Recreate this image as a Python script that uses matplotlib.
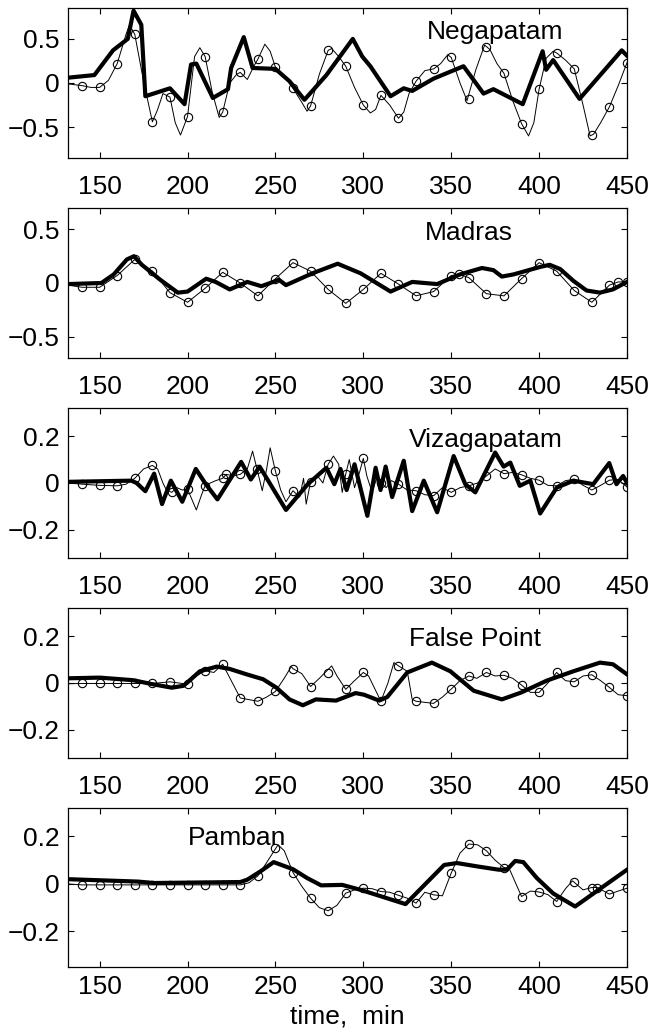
import matplotlib
matplotlib.use('Agg')
import matplotlib.pyplot as plt

plt.rcParams['font.family'] = ['Liberation Sans', 'DejaVu Sans']
plt.rcParams['font.size'] = 19

# ---------------- Negapatam ----------------
neg_obs_t = [140, 150, 160, 170, 180, 190, 200, 210, 220, 230, 240, 250, 260, 270, 280, 290,
             300, 310, 320, 330, 340, 350, 360, 370, 380, 390, 400, 410, 420, 430, 440, 450]
neg_obs_v = [-0.03, -0.05, 0.22, 0.55, -0.44, -0.16, -0.38, 0.30, -0.33, 0.12, 0.27, 0.18, -0.06, -0.26, 0.37, 0.19,
             -0.25, -0.14, -0.40, 0.02, 0.16, 0.29, -0.18, 0.41, 0.11, -0.46, -0.07, 0.34, 0.16, -0.59, -0.27, 0.23]
neg_thin_t = [132, 140, 145, 150, 155, 160, 165, 167, 170, 175, 180, 183, 186, 190, 193, 196, 200, 204, 207,
              210, 214, 218, 220, 224, 228, 230, 234, 238, 240, 244, 247, 250, 255, 260, 265, 268, 270, 275,
              280, 282, 286, 290, 295, 300, 304, 307, 310, 315, 320, 323, 326, 330, 335, 340, 344, 348, 350,
              355, 359, 364, 369, 372, 376, 380, 385, 390, 394, 397, 400, 404, 408, 410, 415, 420, 425, 429,
              431, 435, 440, 445, 450]
neg_thin_v = [-0.01, -0.03, -0.05, -0.05, 0.03, 0.22, 0.55, 0.66, 0.55, 0.02, -0.44, -0.30, -0.12, -0.16, -0.45,
              -0.59, -0.38, 0.30, 0.40, 0.30, -0.10, -0.39, -0.33, 0.00, 0.10, 0.12, 0.04, 0.20, 0.27, 0.44,
              0.36, 0.18, 0.08, -0.06, -0.22, -0.32, -0.26, 0.10, 0.37, 0.39, 0.30, 0.19, -0.05, -0.25, -0.34,
              -0.30, -0.14, -0.25, -0.40, -0.33, -0.12, 0.02, 0.14, 0.16, 0.22, 0.32, 0.29, 0.00, -0.20, 0.15,
              0.43, 0.38, 0.22, 0.11, -0.20, -0.46, -0.60, -0.45, -0.07, 0.28, 0.36, 0.34, 0.26, 0.16, -0.25,
              -0.60, -0.58, -0.45, -0.27, -0.03, 0.23]
neg_mod_t = [132, 147, 157.6, 166, 169.3, 173.7, 176, 190, 198.3, 202, 205, 214.4, 223, 224.8, 232, 237, 250,
             258, 266.5, 271, 279, 294, 299.4, 304, 315.5, 323, 327.8, 340, 357, 368.4, 374, 390.7, 402, 404,
             408, 423, 447, 450]
neg_mod_v = [0.06, 0.09, 0.37, 0.50, 0.82, 0.66, -0.15, -0.06, -0.24, 0.21, 0.22, -0.17, -0.07, 0.17, 0.52,
             0.17, 0.16, 0.02, -0.19, -0.09, 0.09, 0.50, 0.30, 0.19, -0.15, -0.06, -0.09, 0.05, 0.19, -0.12,
             -0.07, -0.24, 0.36, 0.15, 0.26, -0.18, 0.37, 0.31]

# ---------------- Madras ----------------
mad_obs_t = [140, 150, 160, 170, 180, 190, 200, 210, 220, 230, 240, 250, 260, 270, 280, 290, 300, 310,
             320, 330, 340, 350, 354.5, 360, 370, 380, 390, 400, 410, 420, 430, 440, 445, 450]
mad_obs_v = [-0.04, -0.04, 0.07, 0.22, 0.11, -0.09, -0.18, -0.05, 0.10, 0.00, -0.12, 0.04, 0.19, 0.11,
             -0.06, -0.19, -0.06, 0.09, -0.01, -0.12, -0.08, 0.07, 0.08, 0.05, -0.10, -0.12, 0.04, 0.19,
             0.11, -0.07, -0.18, -0.02, 0.01, 0.01]
mad_thin_t = [132] + mad_obs_t
mad_thin_v = [-0.02] + mad_obs_v
mad_mod_t = [132, 151, 158, 165.5, 169.5, 174, 184.5, 194.5, 200, 210.6, 216, 224, 234, 242, 252, 256, 271,
             285.4, 298.5, 315.5, 327.8, 342, 355, 367.5, 374, 378.8, 385.4, 400.6, 406, 412, 419.5, 427,
             434.6, 442, 450]
mad_mod_v = [-0.01, 0.00, 0.08, 0.22, 0.25, 0.17, 0.03, -0.09, -0.08, 0.04, 0.01, -0.06, 0.01, -0.03, 0.03,
             -0.02, 0.09, 0.18, 0.09, -0.08, 0.01, -0.01, 0.08, 0.14, 0.12, 0.06, 0.08, 0.15, 0.17, 0.13,
             0.02, -0.07, -0.09, -0.06, 0.01]

# ---------------- Vizagapatam ----------------
viz_obs_t = [140, 150, 160, 170, 180, 191, 200, 210, 220, 222, 230, 239.5, 250, 260, 270, 280, 290,
             300, 310, 320, 330, 340, 350, 360, 370, 380, 390, 400, 410, 420, 430, 440, 450]
viz_obs_v = [-0.005, -0.01, -0.012, 0.02, 0.075, -0.04, -0.026, -0.012, 0.02, 0.037, 0.037, 0.06, 0.05,
             -0.033, 0.006, 0.08, 0.038, 0.105, 0.002, -0.005, -0.033, -0.054, -0.04, -0.012, 0.03, 0.04,
             0.035, 0.012, -0.012, 0.016, -0.03, 0.012, -0.017]
viz_thin_t = [132, 140, 150, 160, 165, 170, 175, 180, 183, 186, 188, 191, 194, 197, 200, 205, 208, 210, 213,
              216, 220, 222, 226, 230, 234, 237, 239.5, 242.5, 245, 247, 250, 253, 256, 260, 263.8, 266,
              267.5, 270, 274, 277, 280, 283, 286, 288, 290, 292, 295, 298, 300, 302, 305, 308, 310, 313,
              316, 320, 325, 330, 335, 340, 345, 350, 355, 360, 365, 370, 375, 380, 385, 390, 395, 400,
              405, 410, 415, 420, 425, 430, 435, 440, 445, 450]
viz_thin_v = [0.0, -0.005, -0.01, -0.012, -0.005, 0.02, 0.06, 0.075, 0.06, 0.0, -0.03, -0.04, -0.02, -0.03,
              -0.026, -0.115, -0.05, -0.012, 0.0, 0.01, 0.02, 0.037, 0.03, 0.037, 0.06, 0.136, 0.06, -0.033,
              0.06, 0.15, 0.05, -0.03, -0.08, -0.033, -0.06, 0.02, -0.09, 0.006, 0.03, 0.0, 0.08, 0.115,
              0.08, -0.04, 0.038, 0.1, -0.02, 0.05, 0.105, 0.03, -0.04, 0.03, 0.002, -0.02, 0.01, -0.005,
              -0.03, -0.033, -0.05, -0.054, -0.02, -0.04, -0.02, -0.012, 0.0, 0.03, 0.06, 0.04, 0.045, 0.035,
              0.02, 0.012, -0.01, -0.012, 0.01, 0.016, -0.01, -0.03, -0.01, 0.012, 0.015, -0.017]
viz_mod_t = [132, 168, 171, 176, 181, 185.5, 190.5, 197, 204.7, 210.4, 217, 230.5, 236, 241, 256, 268.4, 279,
             283.5, 287, 290.5, 295, 302.3, 307, 309.8, 312.7, 316.4, 323, 327.8, 334.4, 342, 351.4, 358,
             363.7, 375, 379.8, 383.6, 389, 395, 400.6, 410, 419.5, 430.8, 439.9, 444, 447.8, 450]
viz_mod_v = [0.005, 0.01, 0.0, -0.035, 0.04, -0.09, 0.01, -0.08, 0.06, -0.005, -0.07, 0.09, 0.015, 0.07,
             -0.115, -0.005, 0.065, -0.005, 0.06, -0.03, 0.08, -0.14, 0.065, -0.03, 0.07, -0.06, 0.095,
             -0.12, 0.01, -0.125, 0.115, -0.005, -0.04, 0.13, 0.07, 0.087, -0.012, 0.01, -0.13, -0.02, 0.01,
             -0.005, 0.085, -0.005, 0.03, 0.0]

# ---------------- False Point ----------------
fp_obs_t = [140, 150, 160, 170, 180, 190, 200, 210, 220, 230, 240, 250, 260, 270, 280, 290,
            300, 310, 320, 330, 340, 350, 360, 370, 380, 390, 400, 410, 420, 430, 440, 450]
fp_obs_v = [-0.002, -0.002, -0.002, -0.002, -0.002, 0.005, -0.005, 0.052, 0.08, -0.064, -0.078, -0.036,
            0.061, -0.015, 0.042, -0.027, 0.045, -0.078, 0.073, -0.078, -0.087, -0.026, 0.03, 0.045, 0.033,
            -0.009, -0.04, 0.045, 0.005, 0.035, -0.019, -0.054]
fp_thin_t = [132, 140, 150, 160, 170, 180, 190, 200, 205, 210, 215, 220, 230, 240, 245, 250, 255, 259, 260,
             265, 270, 275, 282, 285, 290, 295, 300, 303, 310, 314, 317.4, 320, 325, 327.8, 330, 340, 345,
             350, 355, 360, 364.6, 370, 375, 380, 385, 390, 395, 400, 405, 410, 415, 420, 425, 430, 435,
             440, 445, 450]
fp_thin_v = [-0.003, -0.002, -0.002, -0.002, -0.002, -0.002, 0.005, -0.005, 0.03, 0.052, 0.045, 0.08,
             -0.064, -0.078, -0.06, -0.036, 0.02, 0.07, 0.061, 0.04, -0.015, 0.02, 0.073, 0.03, -0.027, 0.01,
             0.045, 0.03, -0.078, 0.0, 0.087, 0.073, 0.05, -0.07, -0.078, -0.087, -0.06, -0.026, 0.01, 0.03,
             0.02, 0.045, 0.03, 0.033, 0.02, -0.009, -0.04, -0.04, 0.0, 0.045, 0.01, 0.005, 0.03, 0.035,
             0.01, -0.019, -0.05, -0.054]
fp_mod_t = [132, 150, 169, 180, 191, 197.7, 207, 216.6, 224, 233.6, 243, 250.6, 258, 265.6, 273, 284.5, 295.6,
            300.4, 309, 313.6, 325, 339, 349.5, 362.8, 378.8, 390, 404.3, 419.5, 434.6, 442, 450]
fp_mod_v = [0.02, 0.023, 0.012, -0.005, -0.02, -0.012, 0.05, 0.07, 0.06, 0.037, 0.016, -0.02, -0.07, -0.095,
            -0.07, -0.075, -0.043, -0.05, -0.075, -0.06, 0.045, 0.087, 0.05, -0.033, -0.07, -0.04, 0.01,
            0.05, 0.087, 0.08, 0.037]

# ---------------- Pamban ----------------
pam_obs_t = [140, 150, 160, 170, 180, 190, 200, 210, 220, 230, 240, 250, 260, 270, 280, 290, 300, 310,
             320, 330, 340, 350, 360, 370, 380, 390, 400, 410, 420, 430, 433, 440, 450]
pam_obs_v = [-0.004, -0.004, -0.004, -0.004, -0.004, -0.004, -0.004, -0.004, -0.004, -0.004, 0.034, 0.151,
             0.048, -0.06, -0.113, -0.039, -0.018, -0.032, -0.048, -0.081, -0.046, 0.046, 0.168, 0.14,
             0.069, -0.053, -0.034, -0.074, 0.008, -0.015, -0.015, -0.043, -0.018]
pam_thin_t = [132, 140, 150, 160, 170, 180, 190, 200, 210, 220, 230, 235, 240, 245, 251.5, 255, 260, 265,
              270, 275, 280, 285, 290, 295, 300, 305, 310, 315, 320, 325, 330, 335, 340, 345, 350, 355, 360,
              365, 370, 375, 380, 383, 390, 395, 400, 405, 410, 415, 419, 425, 430, 433, 440, 445, 450]
pam_thin_v = [0.0, -0.004, -0.004, -0.004, -0.004, -0.004, -0.004, -0.004, -0.004, -0.004, -0.004, 0.005,
              0.034, 0.09, 0.165, 0.14, 0.048, -0.01, -0.06, -0.1, -0.113, -0.09, -0.039, -0.025, -0.018,
              -0.02, -0.032, -0.035, -0.048, -0.06, -0.081, -0.035, -0.046, -0.05, 0.046, 0.13, 0.168, 0.165,
              0.14, 0.1, 0.069, 0.065, -0.053, -0.03, -0.034, -0.045, -0.074, -0.02, 0.013, -0.025, -0.015,
              -0.015, -0.043, -0.03, -0.018]
pam_mod_t = [132, 171.7, 181, 230, 234, 241.5, 249, 260, 268, 276, 288, 298.5, 324, 346, 353.3, 364.7, 377,
             381.7, 386.4, 391, 398.7, 408, 420.5, 450]
pam_mod_v = [0.02, 0.01, 0.004, 0.008, 0.018, 0.053, 0.092, 0.062, 0.025, -0.006, -0.004, -0.025, -0.085,
             0.08, 0.088, 0.074, 0.06, 0.06, 0.097, 0.092, 0.025, -0.04, -0.095, 0.06]

panels = [
    ('Negapatam', neg_thin_t, neg_thin_v, neg_obs_t, neg_obs_v, neg_mod_t, neg_mod_v),
    ('Madras', mad_thin_t, mad_thin_v, mad_obs_t, mad_obs_v, mad_mod_t, mad_mod_v),
    ('Vizagapatam', viz_thin_t, viz_thin_v, viz_obs_t, viz_obs_v, viz_mod_t, viz_mod_v),
    ('False Point', fp_thin_t, fp_thin_v, fp_obs_t, fp_obs_v, fp_mod_t, fp_mod_v),
    ('Pamban', pam_thin_t, pam_thin_v, pam_obs_t, pam_obs_v, pam_mod_t, pam_mod_v),
]
ylims = [(-0.85, 0.85), (-0.7, 0.7), (-0.32, 0.32), (-0.32, 0.32), (-0.35, 0.32)]
yticks = [[-0.5, 0, 0.5], [-0.5, 0, 0.5], [-0.2, 0, 0.2], [-0.2, 0, 0.2], [-0.2, 0, 0.2]]
ylabels = [['\u22120.5', '0', '0.5'], ['\u22120.5', '0', '0.5'],
           ['\u22120.2', '0', '0.2'], ['\u22120.2', '0', '0.2'], ['\u22120.2', '0', '0.2']]
xticks = [150, 200, 250, 300, 350, 400, 450]
label_pos = [(0.764, 0.791), (0.718, 0.786), (0.748, 0.742), (0.728, 0.747), (0.303, 0.765)]

W, H = 652, 1029
fig = plt.figure(figsize=(W / 100, H / 100), dpi=100)
tops = [8, 208, 408, 608, 808]
hgts = [150, 150, 150, 150, 159]
xpads = [12, 12, 12, 12, 6]
for i, (name, tt, tv, ot, ov, mt, mv) in enumerate(panels):
    ax = fig.add_axes([68 / W, 1 - (tops[i] + hgts[i]) / H, 559 / W, hgts[i] / H])
    ax.plot(tt, tv, color='black', lw=0.7)
    ax.plot(ot, ov, 'o', ms=6, mfc='none', mec='black', mew=0.8)
    ax.plot(mt, mv, color='black', lw=3.0, solid_joinstyle='round')
    ax.set_xlim(132, 450)
    ax.set_ylim(*ylims[i])
    ax.set_xticks(xticks)
    ax.set_yticks(yticks[i])
    ax.set_yticklabels(ylabels[i])
    ax.tick_params(direction='in', top=True, right=True, length=4.5, width=0.8)
    ax.tick_params(axis='x', pad=xpads[i])
    ax.tick_params(axis='y', pad=6)
    for s in ax.spines.values():
        s.set_linewidth(0.9)
    ax.text(label_pos[i][0], label_pos[i][1], name, transform=ax.transAxes,
            ha='center', va='baseline', fontsize=19)
    if i == 4:
        ax.set_xlabel('time,  min', labelpad=4)

fig.savefig('out.png', dpi=100)
